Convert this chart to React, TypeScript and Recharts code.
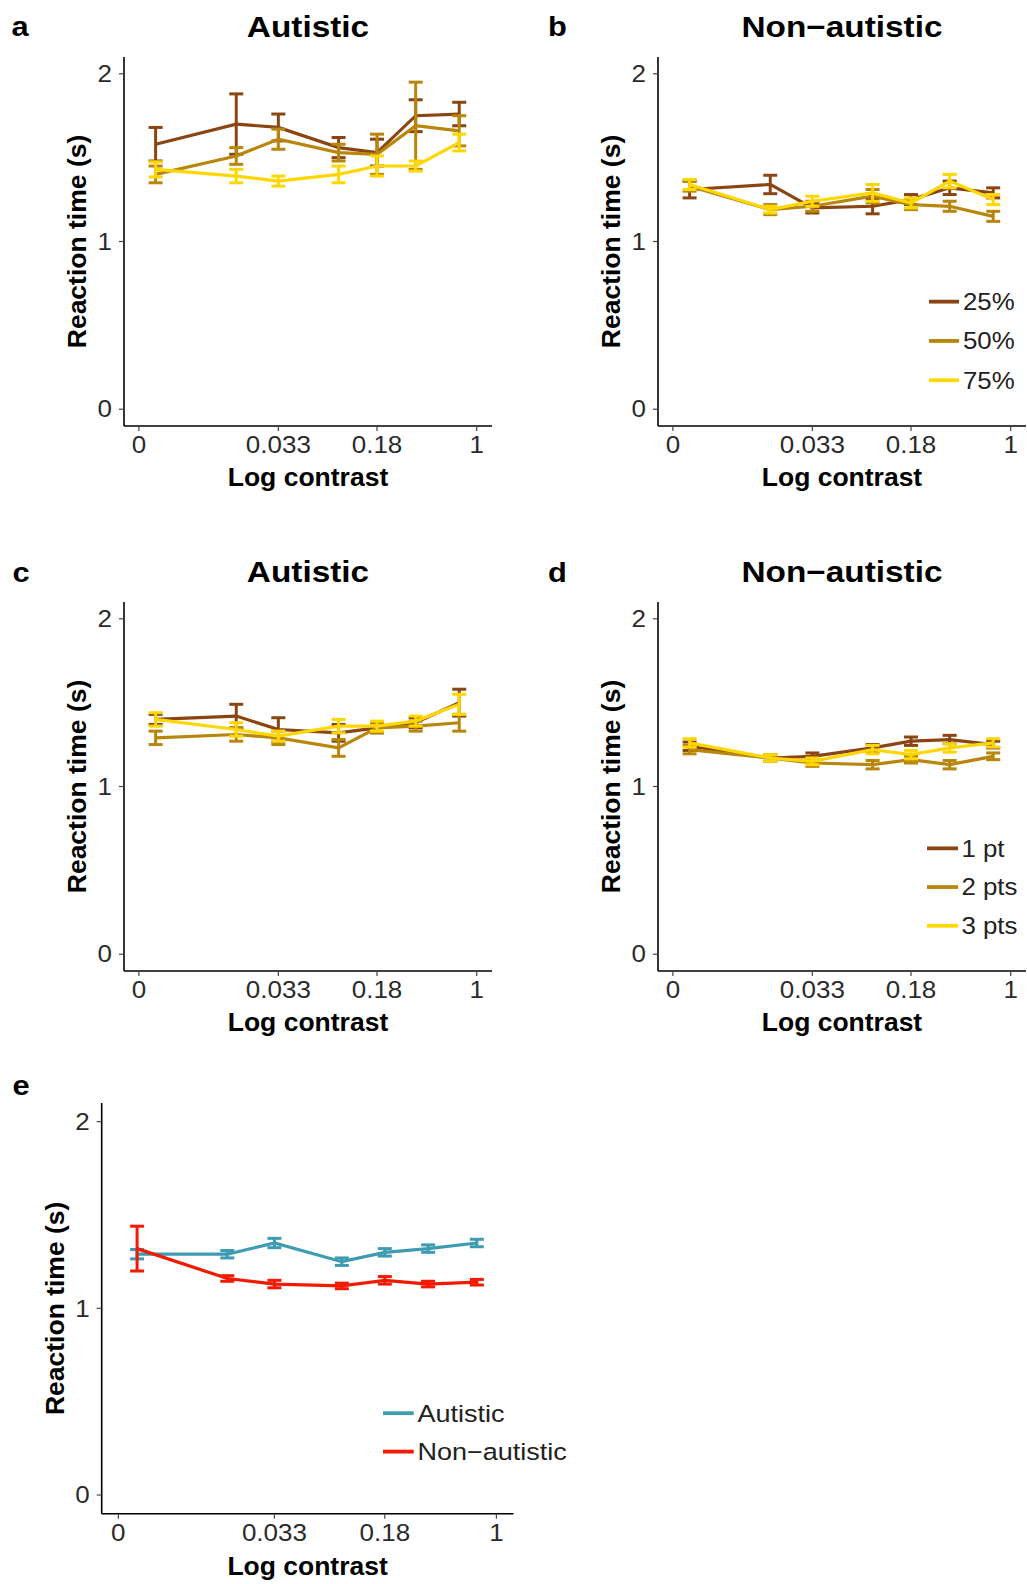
import React from 'react';
import { LineChart, Line, XAxis, YAxis, ErrorBar, Legend } from 'recharts';

// Contrast levels tested (log-spaced on the x axis)
const contrastLevels = [0.004, 0.016, 0.033, 0.093, 0.18, 0.35, 0.74];
const xTickValues = [0.003, 0.033, 0.18, 1];
const xTickLabels = ['0', '0.033', '0.18', '1'];
const yTickValues = [0, 1, 2];

const sizeLabels = ['25%', '50%', '75%'];
const pointLabels = ['1 pt', '2 pts', '3 pts'];
const groupLabels = ['Autistic', 'Non\u2212autistic'];

const warmColors = ['#8B4513', '#B8860B', '#FFD700'];
const groupColors = ['#3E9BB2', '#F21A00'];

// a: autistic, by stimulus size
const autSize25 = [1.58, 1.70, 1.68, 1.56, 1.53, 1.75, 1.76];
const autSize25Se = [0.10, 0.18, 0.08, 0.06, 0.08, 0.095, 0.07];
const autSize50 = [1.40, 1.51, 1.61, 1.53, 1.52, 1.69, 1.66];
const autSize50Se = [0.05, 0.05, 0.06, 0.05, 0.12, 0.26, 0.09];
const autSize75 = [1.43, 1.39, 1.36, 1.40, 1.45, 1.45, 1.59];
const autSize75Se = [0.045, 0.04, 0.03, 0.05, 0.06, 0.03, 0.05];

// b: non-autistic, by stimulus size
const nonSize25 = [1.31, 1.34, 1.20, 1.21, 1.25, 1.32, 1.29];
const nonSize25Se = [0.05, 0.055, 0.03, 0.045, 0.03, 0.04, 0.03];
const nonSize50 = [1.33, 1.19, 1.21, 1.27, 1.22, 1.21, 1.15];
const nonSize50Se = [0.03, 0.03, 0.03, 0.04, 0.03, 0.03, 0.03];
const nonSize75 = [1.34, 1.19, 1.24, 1.29, 1.23, 1.36, 1.25];
const nonSize75Se = [0.03, 0.02, 0.03, 0.05, 0.03, 0.04, 0.03];

// c: autistic, by number of points
const autPts1 = [1.40, 1.42, 1.34, 1.32, 1.35, 1.38, 1.50];
const autPts1Se = [0.03, 0.07, 0.07, 0.05, 0.03, 0.03, 0.08];
const autPts2 = [1.29, 1.31, 1.29, 1.23, 1.35, 1.36, 1.38];
const autPts2Se = [0.04, 0.04, 0.04, 0.05, 0.03, 0.03, 0.05];
const autPts3 = [1.40, 1.34, 1.30, 1.36, 1.36, 1.39, 1.49];
const autPts3Se = [0.04, 0.04, 0.03, 0.04, 0.03, 0.03, 0.06];

// d: non-autistic, by number of points
const nonPts1 = [1.24, 1.17, 1.18, 1.23, 1.27, 1.28, 1.25];
const nonPts1Se = [0.025, 0.02, 0.02, 0.02, 0.025, 0.025, 0.02];
const nonPts2 = [1.22, 1.17, 1.14, 1.13, 1.16, 1.13, 1.18];
const nonPts2Se = [0.025, 0.02, 0.02, 0.025, 0.02, 0.025, 0.02];
const nonPts3 = [1.26, 1.17, 1.15, 1.22, 1.19, 1.23, 1.26];
const nonPts3Se = [0.025, 0.02, 0.02, 0.025, 0.025, 0.025, 0.025];

// e: group means
const groupAut = [1.29, 1.29, 1.35, 1.25, 1.30, 1.32, 1.35];
const groupAutSe = [0.025, 0.02, 0.025, 0.02, 0.02, 0.02, 0.02];
const groupNon = [1.32, 1.16, 1.13, 1.12, 1.15, 1.13, 1.14];
const groupNonSe = [0.12, 0.015, 0.02, 0.015, 0.02, 0.015, 0.015];

const FONT = "'Liberation Sans', Arial, Helvetica, sans-serif";
const X_DOMAIN: [number, number] = [-2.634, 0.114];
const Y_DOMAIN: [number, number] = [-0.1, 2.1];
const TICK_SIZE = 23;
const TICK_STRETCH = 1.13;

type Series = { name: string; color: string; mean: number[]; se: number[] };

function buildRows(series: Series[]) {
  return contrastLevels.map((c, i) => {
    const row: Record<string, number> = { logC: Math.log10(c) };
    series.forEach((s, k) => {
      row[`m${k}`] = s.mean[i];
      row[`e${k}`] = s.se[i];
    });
    return row;
  });
}

const tickLog = xTickValues.map((v) => Math.log10(v));

const XTick = (props: any) => {
  const { x, y, payload } = props;
  const idx = tickLog.findIndex((v) => Math.abs(v - payload.value) < 1e-6);
  return (
    <text
      transform={`translate(${x},${y}) scale(${TICK_STRETCH},1)`}
      textAnchor="middle"
      dy="0.71em"
      fontSize={TICK_SIZE}
      fill="#2a2a2a"
      fontFamily={FONT}
    >
      {idx >= 0 ? xTickLabels[idx] : ''}
    </text>
  );
};

const YTick = (props: any) => {
  const { x, y, payload } = props;
  return (
    <text
      transform={`translate(${x},${y}) scale(${TICK_STRETCH},1)`}
      textAnchor="end"
      dy="0.355em"
      fontSize={TICK_SIZE}
      fill="#2a2a2a"
      fontFamily={FONT}
    >
      {String(payload.value)}
    </text>
  );
};

type LegendSpec = {
  left: number;
  top: number;
  spacing: number;
  keyLen: number;
  textX: number;
  fontSize: number;
  stretch: number;
};

type PanelProps = {
  left: number;
  top: number;
  width: number;
  height: number;
  plotTop: number;
  plotHeight: number;
  axisWidth: number;
  plotWidth: number;
  yLabelGap: number;
  xLabelDrop: number;
  series: Series[];
  legend?: LegendSpec;
};

function Panel(p: PanelProps) {
  const rows = buildRows(p.series);
  const marginRight = p.width - p.axisWidth - p.plotWidth;
  const xAxisHeight = p.height - p.plotTop - p.plotHeight;

  const yLabel = (lp: any) => {
    const vb = lp.viewBox;
    const cx = vb.x + vb.width - p.yLabelGap;
    const cy = vb.y + vb.height / 2;
    return (
      <text
        transform={`translate(${cx},${cy}) rotate(-90)`}
        textAnchor="middle"
        dy="0.355em"
        fontSize={26.5}
        fontWeight="bold"
        fill="#000"
        fontFamily={FONT}
      >
        Reaction time (s)
      </text>
    );
  };

  const xLabel = (lp: any) => {
    const vb = lp.viewBox;
    return (
      <text
        x={vb.x + vb.width / 2}
        y={vb.y + p.xLabelDrop}
        textAnchor="middle"
        fontSize={26.5}
        fontWeight="bold"
        fill="#000"
        fontFamily={FONT}
      >
        Log contrast
      </text>
    );
  };

  const legendContent = () => {
    if (!p.legend) return null;
    const lg = p.legend;
    const h = lg.spacing * p.series.length;
    return (
      <svg width={200} height={h} style={{ display: 'block', overflow: 'visible' }}>
        {p.series.map((s, i) => {
          const cy = lg.spacing * (i + 0.5);
          return (
            <g key={s.name}>
              <line x1={0} x2={lg.keyLen} y1={cy} y2={cy} stroke={s.color} strokeWidth={3.8} />
              <text
                transform={`translate(${lg.textX},${cy}) scale(${lg.stretch},1)`}
                dy="0.355em"
                fontSize={lg.fontSize}
                fill="#222"
                fontFamily={FONT}
              >
                {s.name}
              </text>
            </g>
          );
        })}
      </svg>
    );
  };

  return (
    <div style={{ position: 'absolute', left: p.left, top: p.top }}>
      <LineChart
        width={p.width}
        height={p.height}
        data={rows}
        margin={{ top: p.plotTop, right: marginRight, bottom: 0, left: 0 }}
      >
        <XAxis
          dataKey="logC"
          type="number"
          domain={X_DOMAIN}
          ticks={tickLog}
          interval={0}
          allowDataOverflow
          height={xAxisHeight}
          tickSize={5}
          tickMargin={6}
          tick={<XTick />}
          axisLine={{ stroke: '#000', strokeWidth: 1.6 }}
          tickLine={{ stroke: '#444', strokeWidth: 1.2 }}
          label={xLabel}
        />
        <YAxis
          type="number"
          domain={Y_DOMAIN}
          ticks={yTickValues}
          interval={0}
          allowDataOverflow
          width={p.axisWidth}
          tickSize={5}
          tickMargin={7}
          tick={<YTick />}
          axisLine={{ stroke: '#000', strokeWidth: 1.6 }}
          tickLine={{ stroke: '#444', strokeWidth: 1.2 }}
          label={yLabel}
        />
        {p.series.map((s, k) => (
          <Line
            key={s.name}
            name={s.name}
            dataKey={`m${k}`}
            type="linear"
            stroke={s.color}
            strokeWidth={3.2}
            dot={false}
            activeDot={false}
            isAnimationActive={false}
          >
            <ErrorBar
              dataKey={`e${k}`}
              direction="y"
              width={7}
              stroke={s.color}
              strokeWidth={3}
              isAnimationActive={false}
            />
          </Line>
        ))}
        {p.legend && (
          <Legend
            layout="vertical"
            align="center"
            verticalAlign="middle"
            content={legendContent}
            wrapperStyle={{ left: p.legend.left, top: p.legend.top, width: 200 }}
          />
        )}
      </LineChart>
    </div>
  );
}

const sizeAut: Series[] = [
  { name: sizeLabels[0], color: warmColors[0], mean: autSize25, se: autSize25Se },
  { name: sizeLabels[1], color: warmColors[1], mean: autSize50, se: autSize50Se },
  { name: sizeLabels[2], color: warmColors[2], mean: autSize75, se: autSize75Se },
];
const sizeNon: Series[] = [
  { name: sizeLabels[0], color: warmColors[0], mean: nonSize25, se: nonSize25Se },
  { name: sizeLabels[1], color: warmColors[1], mean: nonSize50, se: nonSize50Se },
  { name: sizeLabels[2], color: warmColors[2], mean: nonSize75, se: nonSize75Se },
];
const ptsAut: Series[] = [
  { name: pointLabels[0], color: warmColors[0], mean: autPts1, se: autPts1Se },
  { name: pointLabels[1], color: warmColors[1], mean: autPts2, se: autPts2Se },
  { name: pointLabels[2], color: warmColors[2], mean: autPts3, se: autPts3Se },
];
const ptsNon: Series[] = [
  { name: pointLabels[0], color: warmColors[0], mean: nonPts1, se: nonPts1Se },
  { name: pointLabels[1], color: warmColors[1], mean: nonPts2, se: nonPts2Se },
  { name: pointLabels[2], color: warmColors[2], mean: nonPts3, se: nonPts3Se },
];
const groups: Series[] = [
  { name: groupLabels[0], color: groupColors[0], mean: groupAut, se: groupAutSe },
  { name: groupLabels[1], color: groupColors[1], mean: groupNon, se: groupNonSe },
];

const leftCol = { left: 0, width: 520, axisWidth: 124, plotWidth: 368 };
const rightCol = { left: 533.7, width: 493.3, axisWidth: 124, plotWidth: 368 };
const rowBox = { height: 500, plotTop: 57, plotHeight: 369, yLabelGap: 47.5, xLabelDrop: 60 };

type Heading = { text: string; x: number; y: number; anchor: 'start' | 'middle'; size: number; stretch: number };
const headings: Heading[] = [
  { text: 'a', x: 11.5, y: 36, anchor: 'start', size: 28, stretch: 1.1 },
  { text: 'b', x: 548, y: 36, anchor: 'start', size: 28, stretch: 1.1 },
  { text: 'c', x: 12.5, y: 582, anchor: 'start', size: 28, stretch: 1.1 },
  { text: 'd', x: 548, y: 582, anchor: 'start', size: 28, stretch: 1.1 },
  { text: 'e', x: 12.5, y: 1095, anchor: 'start', size: 28, stretch: 1.1 },
  { text: groupLabels[0], x: 308, y: 36.5, anchor: 'middle', size: 29, stretch: 1.15 },
  { text: groupLabels[1], x: 842, y: 36.5, anchor: 'middle', size: 29, stretch: 1.15 },
  { text: groupLabels[0], x: 308, y: 581.7, anchor: 'middle', size: 29, stretch: 1.15 },
  { text: groupLabels[1], x: 842, y: 581.7, anchor: 'middle', size: 29, stretch: 1.15 },
];

export default function App() {
  return (
    <div
      style={{
        position: 'absolute',
        left: 0,
        top: 0,
        width: 1027,
        height: 1584,
        background: '#fff',
        overflow: 'hidden',
      }}
    >
      <Panel {...leftCol} {...rowBox} top={0} series={sizeAut} />
      <Panel
        {...rightCol}
        {...rowBox}
        top={0}
        series={sizeNon}
        legend={{ left: 395.6, top: 282, spacing: 39.3, keyLen: 30, textX: 34, fontSize: 23.5, stretch: 1.1 }}
      />
      <Panel {...leftCol} {...rowBox} top={544.7} series={ptsAut} />
      <Panel
        {...rightCol}
        {...rowBox}
        top={544.7}
        series={ptsNon}
        legend={{ left: 393.6, top: 284.3, spacing: 38.7, keyLen: 31, textX: 34.4, fontSize: 23.5, stretch: 1.1 }}
      />
      <Panel
        left={0}
        top={1046.3}
        width={600}
        height={537.7}
        plotTop={57}
        plotHeight={410.7}
        axisWidth={101.7}
        plotWidth={411.8}
        yLabelGap={47}
        xLabelDrop={61}
        series={groups}
        legend={{ left: 382.9, top: 347.8, spacing: 38.4, keyLen: 30.7, textX: 34.4, fontSize: 23.5, stretch: 1.15 }}
      />
      <svg
        width={1027}
        height={1584}
        style={{ position: 'absolute', left: 0, top: 0, pointerEvents: 'none' }}
      >
        {headings.map((h, i) => (
          <text
            key={i}
            transform={`translate(${h.x},${h.y}) scale(${h.stretch},1)`}
            textAnchor={h.anchor}
            fontSize={h.size}
            fontWeight="bold"
            fill="#000"
            fontFamily={FONT}
          >
            {h.text}
          </text>
        ))}
      </svg>
    </div>
  );
}
